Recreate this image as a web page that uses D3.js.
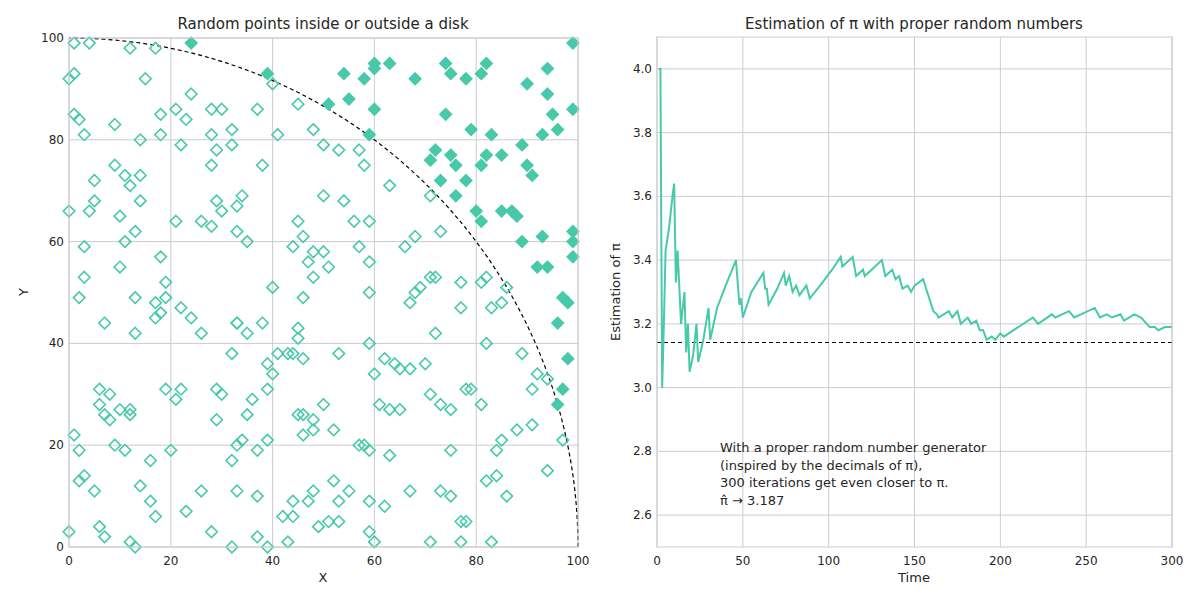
<!DOCTYPE html>
<html>
<head>
<meta charset="utf-8">
<script src="https://cdn.jsdelivr.net/npm/d3@7"></script>
<style>
  body { margin: 0; background: #fff; }
  text { font-family: "DejaVu Sans", sans-serif; fill: #262626; }
</style>
</head>
<body>
<div class="chart"></div>
<script>
// points, [x, y]
var insidePts = [
  [1,99],[4,99],[17,98],[12,98],[1,93],[0,92],[1,85],[2,84],[3,81],[14,80],[15,92],[24,89],
  [18,85],[21,86],[23,84],[18,81],[28,86],[30,86],[28,81],[32,82],[32,79],[29,78],[22,79],
  [9,83],[11,73],[12,71],[14,73],[9,75],[5,72],[5,68],[4,66],[14,68],[0,66],[28,75],[30,66],
  [29,68],[33,67],[34,69],[37,86],[38,75],[40,91],[41,81],[45,87],[48,82],[50,79],[53,78],
  [57,78],[58,75],[54,68],[50,69],[56,64],[59,64],[45,64],[63,71],[51,55],[50,58],
  [10,65],[11,60],[3,59],[13,62],[21,64],[26,64],[28,63],[33,62],[35,60],[18,57],[10,55],
  [3,53],[2,49],[13,49],[19,52],[19,49],[17,48],[18,46],[17,45],[22,47],[24,45],[7,44],
  [13,42],[26,42],[33,44],[35,42],[38,44],[44,59],[46,61],[48,58],[48,53],[47,56],[57,59],
  [59,56],[59,50],[40,51],[46,49],[45,43],[45,41],[46,37],[43,38],[41,38],[39,36],[40,34],
  [32,38],[36,29],[39,31],[35,26],[33,20],[34,21],[32,17],[37,19],[39,21],[29,31],[30,30],
  [21,29],[22,31],[19,31],[20,19],[16,17],[14,12],[16,9],[17,6],[12,26],[12,27],[10,27],
  [9,20],[11,19],[8,25],[7,26],[6,28],[6,31],[8,30],[2,19],[2,13],[3,14],[1,22],[5,11],
  [6,4],[7,2],[12,1],[13,0],[0,3],[23,7],[26,11],[28,3],[32,0],[33,11],[37,2],[37,10],
  [39,0],[29,25],[42,6],[44,6],[44,9],[43,1],[45,26],[46,26],[46,22],[48,25],[48,23],
  [48,11],[47,9],[49,4],[51,5],[53,5],[53,9],[52,13],[52,23],[50,28],[53,38],[55,11],
  [57,20],[58,20],[59,19],[59,9],[59,3],[60,1],[59,40],[60,34],[61,28],[62,8],[63,18],
  [63,27],[62,37],[64,36],[65,35],[65,27],[67,35],[67,11],[66,59],[68,61],[67,48],[68,50],
  [69,51],[71,53],[72,53],[70,36],[71,30],[72,42],[73,28],[71,1],[73,11],[75,10],[75,19],
  [75,27],[77,47],[77,52],[78,31],[79,31],[77,5],[78,5],[77,1],[81,28],[82,13],[82,40],
  [81,52],[82,53],[83,47],[83,1],[84,19],[84,14],[85,21],[85,48],[86,51],[86,10],[88,23],
  [89,38],[91,31],[91,24],[92,34],[94,33],[94,15],[97,21],[71,69],[73,62],[33,44],[44,38]
]
var outsidePts = [
  [24,99],[39,93],[51,87],[55,88],[54,93],[58,92],[60,95],[60,94],[63,95],[68,92],[74,95],
  [75,93],[78,92],[81,93],[82,95],[74,85],[79,82],[83,81],[90,91],[94,94],[94,89],[99,99],
  [95,85],[99,86],[96,82],[93,81],[89,79],[72,78],[71,76],[75,77],[76,75],[73,72],[78,72],
  [76,69],[81,75],[82,77],[85,77],[90,75],[91,73],[80,66],[81,64],[85,66],[87,66],[88,65],
  [89,60],[93,61],[99,62],[99,60],[99,57],[92,55],[94,55],[97,49],[98,48],[96,44],[98,37],
  [97,31],[96,28],[59,81],[60,86]
]
// running estimate of pi, [time, value]
var piSteps = [
  [1,4.0],[2,4.0],[3,3.0],[4,3.2],[5,3.43],[7,3.5],[9,3.6],[10,3.64],[11,3.33],[12,3.43],
  [14,3.2],[16,3.3],[17,3.11],[18,3.2],[19,3.05],[21,3.1],[23,3.2],[24,3.08],[27,3.15],
  [30,3.25],[31,3.15],[35,3.25],[40,3.32],[46,3.40],[48,3.26],[49,3.28],[50,3.22],[55,3.3],
  [62,3.36],[63,3.31],[64,3.31],[65,3.26],[70,3.31],[74,3.36],[75,3.32],[77,3.35],[79,3.30],
  [81,3.32],[83,3.29],[87,3.32],[89,3.28],[95,3.32],[102,3.37],[107,3.41],[108,3.38],
  [114,3.41],[116,3.35],[120,3.37],[121,3.35],[125,3.37],[131,3.40],[133,3.35],[137,3.37],
  [139,3.34],[141,3.35],[143,3.31],[146,3.32],[148,3.30],[150,3.32],[155,3.34],[158,3.29],
  [161,3.24],[163,3.23],[164,3.22],[170,3.24],[172,3.22],[175,3.24],[177,3.20],[181,3.22],
  [183,3.20],[186,3.21],[188,3.18],[190,3.18],[192,3.15],[195,3.16],[197,3.15],[200,3.17],
  [202,3.16],[219,3.22],[222,3.20],[230,3.23],[232,3.22],[240,3.24],[243,3.22],[255,3.25],
  [258,3.22],[262,3.23],[265,3.22],[270,3.23],[272,3.21],[278,3.23],[282,3.22],[287,3.19],
  [290,3.19],[292,3.18],[296,3.19],[298,3.19],[300,3.19]
]
var leftTicks = [0, 20, 40, 60, 80, 100]
var rightXTicks = [0, 50, 100, 150, 200, 250, 300]
var rightYTicks = [2.6, 2.8, 3.0, 3.2, 3.4, 3.6, 3.8, 4.0]
var noteLines = [
  'With a proper random number generator',
  '(inspired by the decimals of \u03c0),',
  '300 iterations get even closer to \u03c0.',
  '\u03c0\u0302 \u2192 3.187'
]

var green = '#48c9a9'
var grid = '#cccccc'

var svg = d3.select('.chart')
  .append('svg')
    .attr('width', 1200)
    .attr('height', 600)

function frame (g, x, y, w, h) {
  g.append('rect')
    .attr('x', x).attr('y', y).attr('width', w).attr('height', h)
    .attr('fill', 'none').attr('stroke', grid).attr('stroke-width', 1)
}

function drawAxes (g, x, y, xTicks, yTicks, fmtY) {
  var xr = x.range(), yr = y.range()
  g.selectAll('.gx').data(xTicks).enter().append('line')
    .attr('x1', d => x(d)).attr('x2', d => x(d))
    .attr('y1', yr[0]).attr('y2', yr[1])
    .attr('stroke', grid)
  g.selectAll('.gy').data(yTicks).enter().append('line')
    .attr('y1', d => y(d)).attr('y2', d => y(d))
    .attr('x1', xr[0]).attr('x2', xr[1])
    .attr('stroke', grid)
  g.selectAll('.tx').data(xTicks).enter().append('text')
    .attr('x', d => x(d)).attr('y', yr[0] + 18)
    .attr('text-anchor', 'middle').style('font-size', '12px')
    .text(d => d)
  g.selectAll('.ty').data(yTicks).enter().append('text')
    .attr('x', xr[0] - 5).attr('y', d => y(d) + 4)
    .attr('text-anchor', 'end').style('font-size', '12px')
    .text(fmtY)
}

// ---- left panel
var L = svg.append('g')
var x1 = d3.scaleLinear().domain([0, 100]).range([69, 578])
var y1 = d3.scaleLinear().domain([0, 100]).range([547, 38])
drawAxes(L, x1, y1, leftTicks, leftTicks, d => d)

var diamond = d3.symbol().type(d3.symbolDiamond2).size(85)

L.append('path')
  .attr('d', d3.line().x(d => x1(d[0])).y(d => y1(d[1]))(
    d3.range(0, 91).map(a => [100 * Math.cos(a * Math.PI / 180), 100 * Math.sin(a * Math.PI / 180)])))
  .attr('fill', 'none').attr('stroke', '#000').attr('stroke-width', 1.2)
  .attr('stroke-dasharray', '4,3')

L.append('g').selectAll('path').data(insidePts).enter().append('path')
  .attr('d', diamond)
  .attr('transform', d => `translate(${x1(d[0])},${y1(d[1])})`)
  .attr('fill', 'none').attr('stroke', green).attr('stroke-width', 1.6)
L.append('g').selectAll('path').data(outsidePts).enter().append('path')
  .attr('d', diamond)
  .attr('transform', d => `translate(${x1(d[0])},${y1(d[1])})`)
  .attr('fill', green).attr('stroke', green).attr('stroke-width', 1.6)

frame(L, 69, 38, 509, 509)
L.append('text').attr('x', 323).attr('y', 29).attr('text-anchor', 'middle')
  .style('font-size', '15px').text('Random points inside or outside a disk')
L.append('text').attr('x', 323).attr('y', 582).attr('text-anchor', 'middle')
  .style('font-size', '13px').text('X')
L.append('text').attr('transform', 'translate(28,292) rotate(-90)').attr('text-anchor', 'middle')
  .style('font-size', '13px').text('Y')

// ---- right panel
var R = svg.append('g')
var x2 = d3.scaleLinear().domain([0, 300]).range([657, 1172])
var y2 = d3.scaleLinear().domain([2.5, 4.1]).range([547, 37])
drawAxes(R, x2, y2, rightXTicks, rightYTicks, d => d.toFixed(1))

R.append('line')
  .attr('x1', x2(0)).attr('x2', x2(300))
  .attr('y1', y2(Math.PI)).attr('y2', y2(Math.PI))
  .attr('stroke', '#000').attr('stroke-width', 1.2).attr('stroke-dasharray', '4,3')

R.append('path')
  .attr('d', d3.line().x(d => x2(d[0])).y(d => y2(d[1]))(piSteps))
  .attr('fill', 'none').attr('stroke', green).attr('stroke-width', 2)

frame(R, 657, 37, 515, 510)

R.append('g').selectAll('text').data(noteLines).enter().append('text')
  .attr('x', 720).attr('y', (d, i) => 452 + i * 17.5)
  .style('font-size', '13px').text(d => d)

R.append('text').attr('x', 914).attr('y', 29).attr('text-anchor', 'middle')
  .style('font-size', '15px').text('Estimation of \u03c0 with proper random numbers')
R.append('text').attr('x', 914).attr('y', 582).attr('text-anchor', 'middle')
  .style('font-size', '13px').text('Time')
R.append('text').attr('transform', 'translate(620,292) rotate(-90)').attr('text-anchor', 'middle')
  .style('font-size', '13px').text('Estimation of \u03c0')
</script>
</body>
</html>
